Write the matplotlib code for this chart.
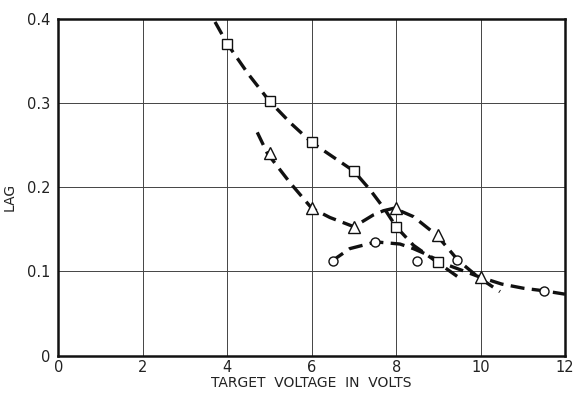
import matplotlib
matplotlib.use("Agg")
import matplotlib.pyplot as plt

# Measured points (target voltage in volts, lag)
square_x = [4, 5, 6, 7, 8, 9]
square_y = [0.370, 0.302, 0.253, 0.219, 0.153, 0.111]

triangle_x = [5, 6, 7, 8, 9, 10]
triangle_y = [0.240, 0.175, 0.153, 0.175, 0.143, 0.093]

circle_x = [6.5, 7.5, 8.5, 9.45, 11.5]
circle_y = [0.112, 0.135, 0.112, 0.113, 0.077]

# Hand-drawn trend curves through each family of points
square_curve_x = [3.71, 4.0, 4.5, 5.0, 5.5, 6.0, 6.5, 7.0, 7.38, 7.74, 8.0, 8.41, 9.0, 9.45]
square_curve_y = [0.396, 0.370, 0.334, 0.302, 0.276, 0.253, 0.236, 0.219, 0.197, 0.173, 0.153, 0.131, 0.110, 0.094]

triangle_curve_x = [4.71, 4.95, 5.49, 6.0, 6.43, 7.0, 7.46, 7.7, 7.95, 8.41, 8.96, 9.2, 9.47, 9.95, 10.46]
triangle_curve_y = [0.265, 0.240, 0.205, 0.175, 0.164, 0.153, 0.167, 0.172, 0.175, 0.165, 0.143, 0.129, 0.113, 0.093, 0.076]

circle_curve_x = [6.47, 6.9, 7.52, 8.09, 8.41, 8.64, 9.0, 9.2, 10.0, 10.5, 11.02, 11.5, 12.0]
circle_curve_y = [0.112, 0.127, 0.135, 0.1325, 0.127, 0.122, 0.113, 0.108, 0.093, 0.085, 0.080, 0.077, 0.073]

x_ticks = [0, 2, 4, 6, 8, 10, 12]
y_ticks = [0, 0.1, 0.2, 0.3, 0.4]
y_tick_labels = ["0", "0.1", "0.2", "0.3", "0.4"]

fig = plt.figure(figsize=(5.73, 3.95), dpi=100)
ax = fig.add_axes([0.102, 0.0995, 0.884, 0.8535])

ax.set_xlim(0, 12)
ax.set_ylim(0, 0.4)
ax.set_xticks(x_ticks)
ax.set_yticks(y_ticks)
ax.set_yticklabels(y_tick_labels)
ax.tick_params(length=0, labelsize=10.5, colors="#222222")
ax.tick_params(axis="x", pad=3)
ax.tick_params(axis="y", pad=6)
ax.grid(True, color="#444444", linewidth=0.7)
ax.set_axisbelow(True)
for s in ax.spines.values():
    s.set_linewidth(1.8)
    s.set_color("#111111")

dash = dict(color="#111111", linewidth=2.4, linestyle=(0, (4.2, 2.2)),
            dash_capstyle="butt", zorder=2)
ax.plot(square_curve_x, square_curve_y, **dash)
ax.plot(triangle_curve_x, triangle_curve_y, **dash)
ax.plot(circle_curve_x, circle_curve_y, **dash)

mk = dict(linestyle="none", markerfacecolor="white", markeredgecolor="#111111",
          markeredgewidth=1.0, zorder=3)
ax.plot(square_x, square_y, marker="s", markersize=6.5, **mk)
ax.plot(triangle_x, triangle_y, marker="^", markersize=8, **mk)
ax.plot(circle_x, circle_y, marker="o", markersize=6.5, **mk)

ax.set_xlabel("TARGET  VOLTAGE  IN  VOLTS", fontsize=10, labelpad=1, color="#222222")
ax.set_ylabel("LAG", fontsize=10, color="#222222")
ax.yaxis.set_label_coords(-0.082, 0.47)

fig.savefig("out.png", dpi=100)
